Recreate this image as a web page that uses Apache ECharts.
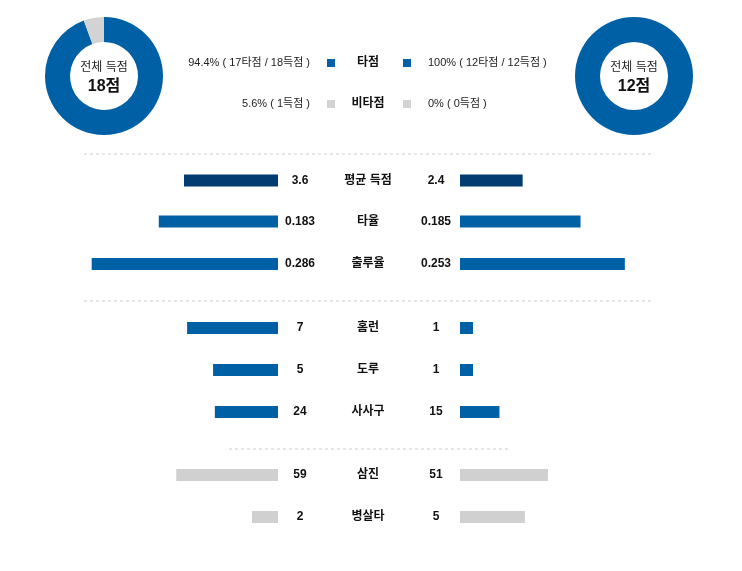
<!DOCTYPE html>
<html>
<head>
<meta charset="utf-8">
<script src="https://cdn.jsdelivr.net/npm/echarts@6/dist/echarts.min.js"></script>
<style>
html,body{margin:0;padding:0;background:#fff;}
#main{width:742px;height:571px;}
</style>
</head>
<body>
<div id="main"></div>
<script>
// ---- data ----
const categories = ['평균 득점', '타율', '출루율', '홈런', '도루', '사사구', '삼진', '병살타'];
const leftValues = [3.6, 0.183, 0.286, 7, 5, 24, 59, 2];
const rightValues = [2.4, 0.185, 0.253, 1, 1, 15, 51, 5];
const leftRuns = [17, 1];   // 타점, 비타점
const rightRuns = [12, 0];  // 타점, 비타점
const runTypes = ['타점', '비타점'];

// ---- layout / style ----
const rowAxisMax = [7.66, 0.307, 0.307, 15.4, 15.4, 76, 116, 15.4];
const rowCenters = [180.5, 221.5, 264, 328, 370, 412, 475, 517];
const rowColors = ['#033c70', '#0060a5', '#0060a5', '#0060a5', '#0060a5', '#0060a5', '#d0d0d0', '#d0d0d0'];
const BLUE = '#0060a5', GRAY = '#d3d3d3';
const FONT = "'Liberation Sans', Arial, 'Noto Sans CJK KR', sans-serif";

const chart = echarts.init(document.getElementById('main'), null, {renderer: 'canvas'});

const grids = [], xAxes = [], yAxes = [], series = [];
const numStyle = {fontFamily: FONT, fontSize: 12, fontWeight: 'bold', color: '#111'};

categories.forEach((cat, i) => {
  const y = rowCenters[i];
  grids.push({left: 78, top: y - 6, width: 200, height: 12});
  grids.push({left: 460, top: y - 6, width: 200, height: 12});
  xAxes.push({gridIndex: 2 * i, type: 'value', min: 0, max: rowAxisMax[i], inverse: true, show: false});
  xAxes.push({gridIndex: 2 * i + 1, type: 'value', min: 0, max: rowAxisMax[i], show: false});
  yAxes.push({
    gridIndex: 2 * i, type: 'category', data: [cat], position: 'right',
    axisLine: {show: false}, axisTick: {show: false}, splitLine: {show: false},
    axisLabel: Object.assign({margin: 90, align: 'center'}, numStyle)
  });
  yAxes.push({gridIndex: 2 * i + 1, type: 'category', data: [cat], show: false});
  series.push({
    type: 'bar', xAxisIndex: 2 * i, yAxisIndex: 2 * i, data: [leftValues[i]],
    barWidth: 12, itemStyle: {color: rowColors[i]}, silent: true,
    label: Object.assign({show: true, position: 'right', distance: 22, align: 'center',
      formatter: () => String(leftValues[i])}, numStyle)
  });
  series.push({
    type: 'bar', xAxisIndex: 2 * i + 1, yAxisIndex: 2 * i + 1, data: [rightValues[i]],
    barWidth: 12, itemStyle: {color: rowColors[i]}, silent: true,
    label: Object.assign({show: true, position: 'left', distance: 24, align: 'center',
      formatter: () => String(rightValues[i])}, numStyle)
  });
});

function pieSeries(center, vals) {
  return {
    type: 'pie', center: center, radius: [34, 59], startAngle: 90, clockwise: true,
    silent: true, label: {show: false}, labelLine: {show: false}, emphasis: {disabled: true},
    data: vals.map((v, k) => ({name: runTypes[k], value: v, itemStyle: {color: k === 0 ? BLUE : GRAY}}))
  };
}
series.push(pieSeries([104, 76], leftRuns));
series.push(pieSeries([634, 76], rightRuns));

const sum = a => a.reduce((s, v) => s + v, 0);
const pct = (v, t) => (t ? Number((v / t * 100).toFixed(1)) : 0) + '%';
const lt = sum(leftRuns), rt = sum(rightRuns);

const graphic = [];
function txt(x, y, text, opts) {
  graphic.push({type: 'text', x: x, y: y, silent: true, style: Object.assign({
    text: text, fontFamily: FONT, fontSize: 12, fill: '#333', align: 'center', verticalAlign: 'middle'}, opts || {})});
}
// donut centers
txt(104, 68, '전체 득점', {fill: '#222'});
txt(104, 87, lt + '점', {fontSize: 16, fontWeight: 'bold', fill: '#111'});
txt(634, 68, '전체 득점', {fill: '#222'});
txt(634, 87, rt + '점', {fontSize: 16, fontWeight: 'bold', fill: '#111'});
// legend rows
const legendY = [63, 104];
const leftLegend = [
  `${pct(leftRuns[0], lt)} ( ${leftRuns[0]}타점 / ${lt}득점 )`,
  `${pct(leftRuns[1], lt)} ( ${leftRuns[1]}득점 )`
];
const rightLegend = [
  `${pct(rightRuns[0], rt)} ( ${rightRuns[0]}타점 / ${rt}득점 )`,
  `${pct(rightRuns[1], rt)} ( ${rightRuns[1]}득점 )`
];
runTypes.forEach((name, k) => {
  const y = legendY[k];
  const col = k === 0 ? BLUE : GRAY;
  txt(310, y, leftLegend[k], {align: 'right', fill: '#222', fontSize: 11});
  graphic.push({type: 'rect', shape: {x: 327, y: y - 4, width: 8, height: 8}, style: {fill: col}, silent: true});
  txt(368, y, name, {fontWeight: 'bold', fill: '#111'});
  graphic.push({type: 'rect', shape: {x: 403, y: y - 4, width: 8, height: 8}, style: {fill: col}, silent: true});
  txt(428, y, rightLegend[k], {align: 'left', fill: '#222', fontSize: 11});
});
// dashed separators
[[84, 652, 154], [84, 652, 301], [229, 508, 449]].forEach(s => {
  graphic.push({type: 'line', silent: true, shape: {x1: s[0], y1: s[2], x2: s[1], y2: s[2]},
    style: {stroke: '#e6e6e6', lineWidth: 2, lineDash: [3, 3]}});
});

chart.setOption({
  animation: false,
  backgroundColor: '#fff',
  grid: grids, xAxis: xAxes, yAxis: yAxes, series: series, graphic: graphic
});
</script>
</body>
</html>
